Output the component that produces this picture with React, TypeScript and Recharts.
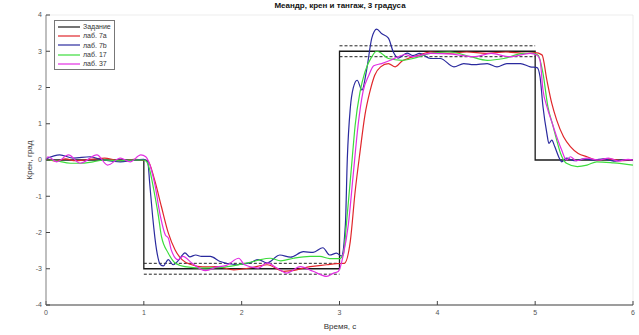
import React from "react";
import { LineChart, Line, XAxis, YAxis, CartesianGrid, Legend } from "recharts";

// Задание (reference square wave) and its ±5% tolerance bands
const stepT = [0, 1, 1, 3, 3, 5, 5, 6];
const stepV = [0, 0, -3, -3, 3, 3, 0, 0];
const lowBandT = [1, 3];
const lowUpperV = [-2.85, -2.85];
const lowLowerV = [-3.15, -3.15];
const highBandT = [3, 5];
const highUpperV = [3.15, 3.15];
const highLowerV = [2.85, 2.85];

// лаб. 7а
const redT = [0, 0.1, 0.2, 0.3, 0.4, 0.5, 0.6, 0.7, 0.8, 0.9, 1.0, 1.04, 1.11, 1.18, 1.25, 1.32, 1.39, 1.49, 1.6, 1.75, 1.92, 2.08, 2.26, 2.43, 2.56, 2.7, 2.87, 2.97, 3.05, 3.11, 3.16, 3.21, 3.26, 3.31, 3.36, 3.42, 3.5, 3.57, 3.64, 3.7, 3.8, 3.93, 4.1, 4.3, 4.5, 4.7, 4.9, 5.0, 5.07, 5.12, 5.17, 5.22, 5.29, 5.36, 5.44, 5.53, 5.63, 5.75, 5.9, 6.0];
const redV = [0.02, -0.03, 0.03, -0.02, 0.0, 0.03, 0.05, 0.0, -0.03, 0.02, 0.0, -0.02, -0.55, -1.29, -2.01, -2.48, -2.75, -2.89, -2.95, -2.94, -3.03, -2.98, -2.89, -3.07, -3.03, -2.94, -2.89, -2.86, -2.85, -2.25, -0.87, 0.23, 1.24, 1.88, 2.34, 2.57, 2.66, 2.57, 2.73, 2.8, 2.88, 2.98, 2.94, 2.98, 2.94, 2.98, 2.94, 2.96, 2.9, 2.2, 1.56, 1.1, 0.64, 0.37, 0.18, 0.09, 0.0, 0.03, -0.02, 0.0];

// лаб. 7b
const blueT = [0, 0.14, 0.28, 0.45, 0.58, 0.76, 0.89, 1.0, 1.04, 1.06, 1.09, 1.13, 1.17, 1.2, 1.25, 1.3, 1.36, 1.42, 1.47, 1.53, 1.59, 1.68, 1.78, 1.95, 2.08, 2.17, 2.26, 2.39, 2.5, 2.63, 2.73, 2.83, 2.9, 2.97, 3.02, 3.06, 3.08, 3.11, 3.14, 3.18, 3.23, 3.28, 3.33, 3.38, 3.43, 3.5, 3.55, 3.6, 3.69, 3.75, 3.82, 3.93, 4.03, 4.17, 4.27, 4.37, 4.51, 4.61, 4.71, 4.85, 4.95, 5.02, 5.05, 5.08, 5.12, 5.14, 5.17, 5.2, 5.24, 5.27, 5.32, 5.4, 5.5, 5.6, 5.7, 5.8, 5.9, 6.0];
const blueV = [0.03, 0.14, 0.05, 0.09, 0.0, -0.05, 0.0, 0.02, -0.05, -0.64, -1.56, -2.48, -2.89, -2.92, -2.75, -2.89, -2.75, -2.56, -2.67, -2.62, -2.66, -2.66, -2.8, -2.89, -2.84, -2.75, -2.84, -2.62, -2.68, -2.53, -2.55, -2.42, -2.62, -2.57, -2.65, -1.79, 0.05, 1.42, 1.98, 2.2, 1.93, 2.53, 3.36, 3.61, 3.49, 3.36, 2.98, 2.81, 2.95, 2.88, 2.94, 2.8, 2.8, 2.57, 2.66, 2.63, 2.66, 2.57, 2.66, 2.66, 2.57, 2.55, 2.29, 1.47, 0.73, 0.46, 0.55, 0.37, 0.09, -0.05, 0.05, -0.02, 0.03, 0.0, 0.03, -0.03, 0.0, 0.0];

// лаб. 17
const greenT = [0, 0.1, 0.25, 0.35, 0.48, 0.6, 0.75, 0.9, 1.0, 1.03, 1.06, 1.1, 1.15, 1.18, 1.25, 1.32, 1.42, 1.59, 1.8, 1.95, 2.12, 2.19, 2.29, 2.4, 2.53, 2.7, 2.8, 2.9, 3.0, 3.04, 3.07, 3.13, 3.16, 3.21, 3.26, 3.33, 3.38, 3.43, 3.5, 3.64, 3.75, 3.93, 4.13, 4.34, 4.51, 4.68, 4.88, 4.98, 5.03, 5.08, 5.13, 5.18, 5.22, 5.26, 5.32, 5.43, 5.53, 5.63, 5.8, 6.0];
const greenV = [0.0, -0.02, -0.09, -0.09, -0.05, 0.0, -0.02, 0.0, 0.0, -0.05, -0.27, -0.8, -1.56, -2.11, -2.57, -2.84, -2.94, -2.98, -2.96, -2.9, -2.8, -2.75, -2.71, -2.78, -2.71, -2.66, -2.66, -2.72, -2.72, -2.6, -1.79, 0.05, 0.96, 1.88, 2.43, 2.85, 3.0, 2.94, 2.8, 2.75, 2.8, 2.94, 2.98, 2.85, 2.75, 2.8, 2.94, 2.94, 2.89, 2.39, 1.47, 0.96, 0.55, 0.18, -0.09, -0.18, -0.14, -0.05, -0.08, -0.14];

// лаб. 37
const magentaT = [0, 0.02, 0.11, 0.23, 0.35, 0.52, 0.63, 0.76, 0.86, 0.97, 1.02, 1.05, 1.11, 1.17, 1.22, 1.25, 1.28, 1.35, 1.4, 1.49, 1.63, 1.75, 1.85, 1.97, 2.03, 2.17, 2.26, 2.36, 2.46, 2.6, 2.73, 2.87, 2.94, 2.99, 3.04, 3.09, 3.14, 3.19, 3.24, 3.3, 3.35, 3.43, 3.52, 3.6, 3.67, 3.74, 3.93, 4.15, 4.37, 4.55, 4.74, 4.95, 5.02, 5.05, 5.08, 5.12, 5.17, 5.22, 5.27, 5.32, 5.36, 5.42, 5.53, 5.65, 5.75, 5.85, 5.95, 6.0];
const magentaV = [0.0, 0.09, -0.05, 0.14, -0.09, 0.14, -0.14, 0.05, -0.05, 0.14, 0.09, -0.05, -0.64, -1.56, -2.07, -2.15, -2.48, -2.75, -2.66, -2.84, -3.05, -2.95, -2.9, -2.71, -2.89, -2.98, -2.84, -2.98, -3.12, -2.94, -3.07, -3.21, -3.12, -3.07, -2.6, -1.79, -0.41, 0.96, 1.88, 2.34, 2.6, 2.66, 2.75, 2.85, 2.91, 2.85, 2.94, 2.92, 2.85, 2.94, 2.85, 2.94, 2.89, 2.75, 1.93, 1.47, 1.05, 0.64, 0.28, 0.0, 0.09, -0.02, 0.05, 0.0, 0.05, -0.03, 0.02, 0.0];

const legendOrder = ["Задание", "лаб. 7а", "лаб. 7b", "лаб. 17", "лаб. 37"];
const xTicks = [0, 1, 2, 3, 4, 5, 6];
const yTicks = [-4, -3, -2, -1, 0, 1, 2, 3, 4];

const zip = (ts: number[], vs: number[]) => ts.map((t, i) => ({ t, v: vs[i] }));

const FONT = "'Liberation Sans', Arial, sans-serif";
const tickStyle = { fontSize: 7, fill: "#555", fontFamily: FONT };

function LegendBox({ payload }: any) {
  const items = legendOrder
    .map((name) => (payload || []).find((p: any) => p.value === name))
    .filter(Boolean);
  return (
    <div
      style={{
        border: "1px solid #777",
        background: "#fff",
        padding: "1px 3px 1px 2px",
        fontFamily: FONT,
        fontSize: 7,
        lineHeight: "9.3px",
        textAlign: "left",
      }}
    >
      {items.map((p: any) => (
        <div key={p.value} style={{ display: "flex", alignItems: "center", height: 9.3 }}>
          <svg width={24} height={6} style={{ marginRight: 2 }}>
            <line x1={1} y1={3} x2={23} y2={3} stroke={p.color} strokeWidth={1.2} />
          </svg>
          <span style={{ color: "#333" }}>{p.value}</span>
        </div>
      ))}
    </div>
  );
}

export default function App() {
  return (
    <div style={{ position: "absolute", left: 0, top: 0, width: 639, height: 335, background: "#fff" }}>
      <div
        style={{
          position: "absolute",
          left: 0,
          top: 1,
          width: 680,
          textAlign: "center",
          fontFamily: FONT,
          fontWeight: "bold",
          fontSize: 8,
          color: "#111",
        }}
      >
        Меандр, крен и тангаж, 3 градуса
      </div>
      <LineChart width={639} height={335} margin={{ top: 15, right: 6, bottom: 0, left: 0 }}>
        <CartesianGrid stroke="#e8e8e8" strokeWidth={0.8} />
        <XAxis
          xAxisId="b"
          type="number"
          dataKey="t"
          domain={[0, 6]}
          ticks={xTicks}
          height={30}
          tick={tickStyle}
          tickSize={-4}
          tickMargin={9}
          axisLine={{ stroke: "#444" }}
          tickLine={{ stroke: "#444" }}
          allowDuplicatedCategory={false}
          label={{
            content: () => (
              <text x={340} y={329} textAnchor="middle" fontSize={8} fill="#333" fontFamily={FONT}>
                Время, с
              </text>
            ),
          }}
        />
        <XAxis
          xAxisId="t"
          orientation="top"
          type="number"
          dataKey="t"
          domain={[0, 6]}
          ticks={xTicks}
          height={0}
          tick={false}
          tickSize={-3}
          axisLine={{ stroke: "#bbb" }}
          tickLine={{ stroke: "#888" }}
        />
        <YAxis
          yAxisId="l"
          type="number"
          domain={[-4, 4]}
          ticks={yTicks}
          width={46}
          tick={tickStyle}
          tickSize={-4}
          tickMargin={8}
          axisLine={{ stroke: "#888" }}
          tickLine={{ stroke: "#444" }}
          label={{
            content: () => (
              <text
                x={32}
                y={160}
                textAnchor="middle"
                fontSize={8}
                fill="#333"
                fontFamily={FONT}
                transform="rotate(-90, 32, 160)"
              >
                Крен, град
              </text>
            ),
          }}
        />
        <YAxis
          yAxisId="r"
          orientation="right"
          type="number"
          domain={[-4, 4]}
          ticks={yTicks}
          width={0}
          tick={false}
          tickSize={-4}
          axisLine={{ stroke: "#444" }}
          tickLine={{ stroke: "#444" }}
        />
        <Legend
          layout="vertical"
          align="center"
          verticalAlign="middle"
          content={<LegendBox />}
          wrapperStyle={{ position: "absolute", left: 54, top: 20, width: "auto", height: "auto" }}
        />
        <Line xAxisId="b" yAxisId="l" data={zip(stepT, stepV)} dataKey="v" name="Задание" type="linear" stroke="#1a1a1a" strokeWidth={1.3} dot={false} isAnimationActive={false} />
        <Line xAxisId="b" yAxisId="l" data={zip(lowBandT, lowUpperV)} dataKey="v" name="lu" legendType="none" type="linear" stroke="#222" strokeWidth={1} strokeDasharray="3 2" dot={false} isAnimationActive={false} />
        <Line xAxisId="b" yAxisId="l" data={zip(lowBandT, lowLowerV)} dataKey="v" name="ll" legendType="none" type="linear" stroke="#222" strokeWidth={1} strokeDasharray="3 2" dot={false} isAnimationActive={false} />
        <Line xAxisId="b" yAxisId="l" data={zip(highBandT, highUpperV)} dataKey="v" name="hu" legendType="none" type="linear" stroke="#222" strokeWidth={1} strokeDasharray="3 2" dot={false} isAnimationActive={false} />
        <Line xAxisId="b" yAxisId="l" data={zip(highBandT, highLowerV)} dataKey="v" name="hl" legendType="none" type="linear" stroke="#222" strokeWidth={1} strokeDasharray="3 2" dot={false} isAnimationActive={false} />
        <Line xAxisId="b" yAxisId="l" data={zip(redT, redV)} dataKey="v" name="лаб. 7а" type="monotone" stroke="#e0262b" strokeWidth={1.2} dot={false} isAnimationActive={false} />
        <Line xAxisId="b" yAxisId="l" data={zip(blueT, blueV)} dataKey="v" name="лаб. 7b" type="monotone" stroke="#2a2a9e" strokeWidth={1.2} dot={false} isAnimationActive={false} />
        <Line xAxisId="b" yAxisId="l" data={zip(greenT, greenV)} dataKey="v" name="лаб. 17" type="monotone" stroke="#3cdc3c" strokeWidth={1.2} dot={false} isAnimationActive={false} />
        <Line xAxisId="b" yAxisId="l" data={zip(magentaT, magentaV)} dataKey="v" name="лаб. 37" type="monotone" stroke="#e22ee2" strokeWidth={1.2} dot={false} isAnimationActive={false} />
      </LineChart>
    </div>
  );
}
